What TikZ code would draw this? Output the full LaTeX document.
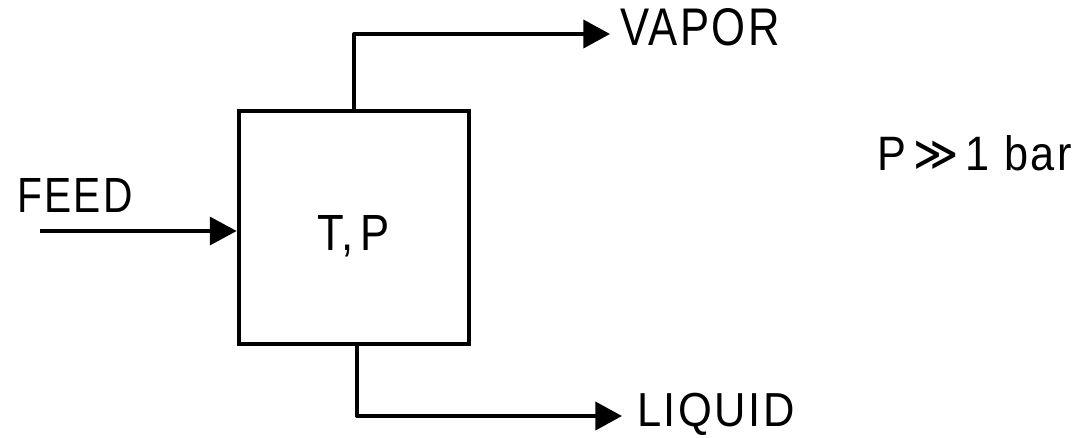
\documentclass[tikz,border=0pt]{standalone}
\usepackage{fontspec}
\usepackage{graphicx}
\setmainfont{Liberation Sans}[LetterSpace=6]
\newfontfamily\symfont{DejaVu Sans}
\usetikzlibrary{arrows.meta}
\tikzset{
  unitbox/.style={draw=black, line width=3.6pt, minimum width=172.5pt, minimum height=174.75pt, inner sep=0pt},
  stream/.style={draw=black, line width=3pt, line join=round, -{Triangle[length=20pt,width=21pt]}},
  lbl/.style={inner sep=0pt, outer sep=0pt, anchor=base west, text=black},
}
\begin{document}
\begin{tikzpicture}[x=0.75pt,y=-0.75pt]
\useasboundingbox (0,0) rectangle (1083,437);
\node[unitbox] (box) at (354,227.5) {};
\coordinate (feedstart) at (40,231);
\coordinate (vapend) at (610,34);
\coordinate (liqend) at (622,416);
\draw[stream, line width=2.4pt] (feedstart) -- (feedstart -| box.west);
\draw[stream] (box.north) |- (vapend);
\draw[stream] ([xshift=2.25pt]box.south) |- (liqend);
\node[lbl] (feed) at (17,212) {\resizebox{87pt}{25.5pt}{FEED}};
\node[lbl] (vapor) at (620,45) {\resizebox{120pt}{27.75pt}{VAPOR}};
\node[lbl] (liquid) at (637,426) {\resizebox{118.5pt}{25pt}{LIQUID}};
\node[lbl] (tp) at (317,250) {\resizebox{54.75pt}{26.25pt}{T,\,P}};
\node[lbl] (cond) at (877,170) {\resizebox{146.25pt}{26.25pt}{P\,{\symfont ≫}\,1 bar}};
\end{tikzpicture}
\end{document}
